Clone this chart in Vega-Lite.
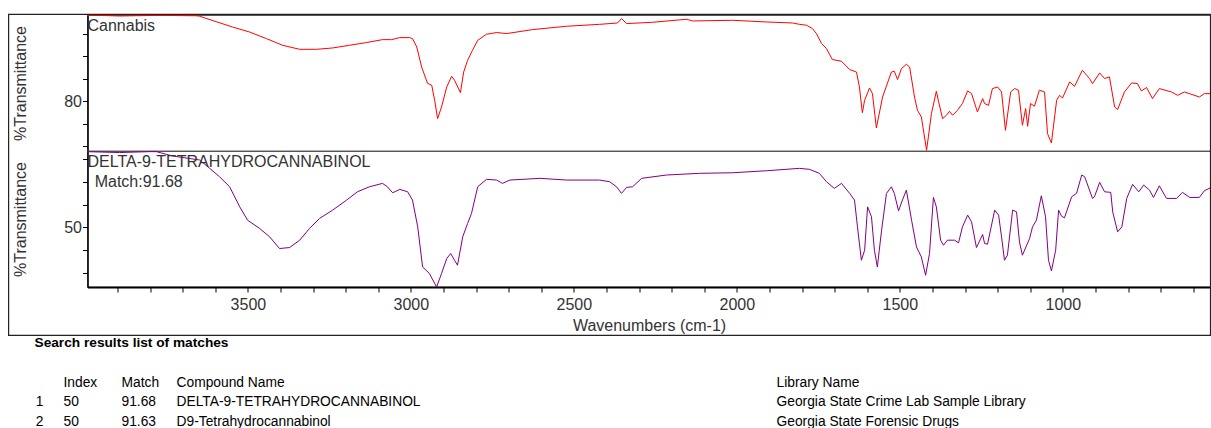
{
  "$schema": "https://vega.github.io/schema/vega-lite/v6.json",
  "padding": {"left": 6.5, "top": 13, "right": 0, "bottom": 0},
  "background": "white",
  "config": {
    "font": "Liberation Sans",
    "view": {"stroke": "#555", "strokeWidth": 1.2},
    "axis": {"grid": false, "domainColor": "#000", "domainWidth": 1.5, "tickColor": "#000", "tickSize": 5, "labelFontSize": 16, "labelColor": "#333", "titleFontSize": 16, "titleFontWeight": "normal", "titleColor": "#333", "labelFont": "Liberation Sans", "titleFont": "Liberation Sans"},
    "title": {"font": "Liberation Sans"}
  },
  "datasets": {
    "sample": [
      {"wavenumber": 3992, "transmittance": 87.67}, {"wavenumber": 3894, "transmittance": 87.58}, {"wavenumber": 3771, "transmittance": 87.64}, {"wavenumber": 3657, "transmittance": 87.6},
      {"wavenumber": 3648, "transmittance": 87.56}, {"wavenumber": 3547, "transmittance": 86.6}, {"wavenumber": 3495, "transmittance": 86.16}, {"wavenumber": 3443, "transmittance": 85.57},
      {"wavenumber": 3394, "transmittance": 84.98}, {"wavenumber": 3341, "transmittance": 84.62}, {"wavenumber": 3289, "transmittance": 84.62}, {"wavenumber": 3240, "transmittance": 84.74},
      {"wavenumber": 3188, "transmittance": 84.98}, {"wavenumber": 3136, "transmittance": 85.22}, {"wavenumber": 3087, "transmittance": 85.48}, {"wavenumber": 3059, "transmittance": 85.48},
      {"wavenumber": 3034, "transmittance": 85.66}, {"wavenumber": 3004, "transmittance": 85.66}, {"wavenumber": 2995, "transmittance": 85.57}, {"wavenumber": 2982, "transmittance": 84.83},
      {"wavenumber": 2967, "transmittance": 83.05}, {"wavenumber": 2949, "transmittance": 81.6}, {"wavenumber": 2936, "transmittance": 81.42}, {"wavenumber": 2927, "transmittance": 80.09},
      {"wavenumber": 2918, "transmittance": 78.46}, {"wavenumber": 2906, "transmittance": 79.49}, {"wavenumber": 2890, "transmittance": 81.27}, {"wavenumber": 2875, "transmittance": 82.22},
      {"wavenumber": 2866, "transmittance": 81.87}, {"wavenumber": 2848, "transmittance": 80.77}, {"wavenumber": 2838, "transmittance": 82.6}, {"wavenumber": 2826, "transmittance": 83.64},
      {"wavenumber": 2811, "transmittance": 84.53}, {"wavenumber": 2795, "transmittance": 85.42}, {"wavenumber": 2768, "transmittance": 85.96}, {"wavenumber": 2737, "transmittance": 86.11},
      {"wavenumber": 2706, "transmittance": 86.02}, {"wavenumber": 2627, "transmittance": 86.37}, {"wavenumber": 2522, "transmittance": 86.67}, {"wavenumber": 2421, "transmittance": 86.84},
      {"wavenumber": 2366, "transmittance": 86.96}, {"wavenumber": 2354, "transmittance": 87.35}, {"wavenumber": 2338, "transmittance": 86.91}, {"wavenumber": 2259, "transmittance": 87.02},
      {"wavenumber": 2154, "transmittance": 87.29}, {"wavenumber": 2136, "transmittance": 87.14}, {"wavenumber": 2013, "transmittance": 87.2}, {"wavenumber": 1909, "transmittance": 87.05},
      {"wavenumber": 1829, "transmittance": 86.96}, {"wavenumber": 1808, "transmittance": 86.84}, {"wavenumber": 1786, "transmittance": 86.76}, {"wavenumber": 1768, "transmittance": 86.46},
      {"wavenumber": 1756, "transmittance": 86.02}, {"wavenumber": 1740, "transmittance": 85.13}, {"wavenumber": 1725, "transmittance": 84.68}, {"wavenumber": 1707, "transmittance": 83.71},
      {"wavenumber": 1679, "transmittance": 83.56}, {"wavenumber": 1654, "transmittance": 82.82}, {"wavenumber": 1633, "transmittance": 82.6}, {"wavenumber": 1624, "transmittance": 81.27},
      {"wavenumber": 1615, "transmittance": 78.99}, {"wavenumber": 1608, "transmittance": 80.09}, {"wavenumber": 1593, "transmittance": 81.18}, {"wavenumber": 1584, "transmittance": 80.68},
      {"wavenumber": 1572, "transmittance": 77.63}, {"wavenumber": 1553, "transmittance": 80.38}, {"wavenumber": 1526, "transmittance": 82.6}, {"wavenumber": 1517, "transmittance": 82.67},
      {"wavenumber": 1507, "transmittance": 81.93}, {"wavenumber": 1495, "transmittance": 82.91}, {"wavenumber": 1480, "transmittance": 83.29}, {"wavenumber": 1470, "transmittance": 83.05},
      {"wavenumber": 1455, "transmittance": 80.38}, {"wavenumber": 1446, "transmittance": 79.2}, {"wavenumber": 1434, "transmittance": 78.61}, {"wavenumber": 1418, "transmittance": 75.64},
      {"wavenumber": 1403, "transmittance": 78.91}, {"wavenumber": 1388, "transmittance": 80.89}, {"wavenumber": 1382, "transmittance": 80.09}, {"wavenumber": 1369, "transmittance": 78.46},
      {"wavenumber": 1357, "transmittance": 78.76}, {"wavenumber": 1348, "transmittance": 79.11}, {"wavenumber": 1338, "transmittance": 78.76}, {"wavenumber": 1323, "transmittance": 79.2},
      {"wavenumber": 1308, "transmittance": 79.8}, {"wavenumber": 1292, "transmittance": 80.92}, {"wavenumber": 1280, "transmittance": 80.68}, {"wavenumber": 1262, "transmittance": 79.05},
      {"wavenumber": 1246, "transmittance": 80.24}, {"wavenumber": 1240, "transmittance": 79.8}, {"wavenumber": 1228, "transmittance": 79.64}, {"wavenumber": 1216, "transmittance": 81.13},
      {"wavenumber": 1200, "transmittance": 81.27}, {"wavenumber": 1188, "transmittance": 80.83}, {"wavenumber": 1176, "transmittance": 77.42}, {"wavenumber": 1160, "transmittance": 80.83},
      {"wavenumber": 1148, "transmittance": 81.13}, {"wavenumber": 1136, "transmittance": 80.98}, {"wavenumber": 1124, "transmittance": 77.87}, {"wavenumber": 1114, "transmittance": 79.35},
      {"wavenumber": 1108, "transmittance": 77.78}, {"wavenumber": 1099, "transmittance": 79.8}, {"wavenumber": 1087, "transmittance": 79.56}, {"wavenumber": 1072, "transmittance": 80.98},
      {"wavenumber": 1056, "transmittance": 80.83}, {"wavenumber": 1047, "transmittance": 77.13}, {"wavenumber": 1035, "transmittance": 76.29}, {"wavenumber": 1019, "transmittance": 80.09},
      {"wavenumber": 1010, "transmittance": 80.53}, {"wavenumber": 1001, "transmittance": 80.29}, {"wavenumber": 979, "transmittance": 81.72}, {"wavenumber": 964, "transmittance": 81.33},
      {"wavenumber": 940, "transmittance": 82.76}, {"wavenumber": 918, "transmittance": 82.02}, {"wavenumber": 909, "transmittance": 81.57}, {"wavenumber": 887, "transmittance": 82.52},
      {"wavenumber": 872, "transmittance": 82.02}, {"wavenumber": 857, "transmittance": 82.16}, {"wavenumber": 841, "transmittance": 79.49}, {"wavenumber": 832, "transmittance": 79.26},
      {"wavenumber": 811, "transmittance": 80.83}, {"wavenumber": 789, "transmittance": 81.63}, {"wavenumber": 771, "transmittance": 81.57}, {"wavenumber": 759, "transmittance": 80.92},
      {"wavenumber": 743, "transmittance": 81.22}, {"wavenumber": 725, "transmittance": 80.24}, {"wavenumber": 704, "transmittance": 81.13}, {"wavenumber": 667, "transmittance": 80.83},
      {"wavenumber": 648, "transmittance": 80.53}, {"wavenumber": 627, "transmittance": 80.83}, {"wavenumber": 581, "transmittance": 80.38}, {"wavenumber": 566, "transmittance": 80.68},
      {"wavenumber": 547, "transmittance": 80.68}
    ],
    "reference": [
      {"wavenumber": 3992, "transmittance": 66.69}, {"wavenumber": 3894, "transmittance": 66.5}, {"wavenumber": 3800, "transmittance": 66.7}, {"wavenumber": 3780, "transmittance": 66.69},
      {"wavenumber": 3731, "transmittance": 65.74}, {"wavenumber": 3648, "transmittance": 64.86}, {"wavenumber": 3617, "transmittance": 63.02}, {"wavenumber": 3587, "transmittance": 61.17},
      {"wavenumber": 3556, "transmittance": 58.96}, {"wavenumber": 3525, "transmittance": 54.55}, {"wavenumber": 3501, "transmittance": 51.61}, {"wavenumber": 3464, "transmittance": 49.78},
      {"wavenumber": 3433, "transmittance": 47.92}, {"wavenumber": 3403, "transmittance": 45.36}, {"wavenumber": 3372, "transmittance": 45.58}, {"wavenumber": 3341, "transmittance": 47.2},
      {"wavenumber": 3311, "transmittance": 49.78}, {"wavenumber": 3280, "transmittance": 51.99}, {"wavenumber": 3240, "transmittance": 53.82}, {"wavenumber": 3197, "transmittance": 56.03},
      {"wavenumber": 3164, "transmittance": 57.86}, {"wavenumber": 3127, "transmittance": 58.96}, {"wavenumber": 3087, "transmittance": 59.71}, {"wavenumber": 3072, "transmittance": 58.96},
      {"wavenumber": 3056, "transmittance": 57.64}, {"wavenumber": 3034, "transmittance": 58.39}, {"wavenumber": 3010, "transmittance": 57.86}, {"wavenumber": 2995, "transmittance": 56.03},
      {"wavenumber": 2979, "transmittance": 50.13}, {"wavenumber": 2964, "transmittance": 41.3}, {"wavenumber": 2943, "transmittance": 39.85}, {"wavenumber": 2921, "transmittance": 36.89},
      {"wavenumber": 2906, "transmittance": 39.85}, {"wavenumber": 2890, "transmittance": 43.16}, {"wavenumber": 2878, "transmittance": 44.26}, {"wavenumber": 2866, "transmittance": 42.78},
      {"wavenumber": 2857, "transmittance": 41.68}, {"wavenumber": 2841, "transmittance": 47.92}, {"wavenumber": 2826, "transmittance": 50.88}, {"wavenumber": 2814, "transmittance": 53.09},
      {"wavenumber": 2795, "transmittance": 58.96}, {"wavenumber": 2768, "transmittance": 60.6}, {"wavenumber": 2737, "transmittance": 60.44}, {"wavenumber": 2719, "transmittance": 59.71},
      {"wavenumber": 2696, "transmittance": 60.44}, {"wavenumber": 2604, "transmittance": 60.82}, {"wavenumber": 2522, "transmittance": 60.44}, {"wavenumber": 2421, "transmittance": 60.44},
      {"wavenumber": 2390, "transmittance": 60.07}, {"wavenumber": 2369, "transmittance": 58.96}, {"wavenumber": 2354, "transmittance": 57.51}, {"wavenumber": 2338, "transmittance": 58.83},
      {"wavenumber": 2320, "transmittance": 58.96}, {"wavenumber": 2292, "transmittance": 60.82}, {"wavenumber": 2216, "transmittance": 61.55}, {"wavenumber": 2115, "transmittance": 61.92},
      {"wavenumber": 2013, "transmittance": 62.05}, {"wavenumber": 1909, "transmittance": 62.49}, {"wavenumber": 1808, "transmittance": 63.02}, {"wavenumber": 1777, "transmittance": 62.8},
      {"wavenumber": 1747, "transmittance": 61.92}, {"wavenumber": 1725, "transmittance": 60.07}, {"wavenumber": 1701, "transmittance": 58.61}, {"wavenumber": 1679, "transmittance": 59.71},
      {"wavenumber": 1654, "transmittance": 57.51}, {"wavenumber": 1639, "transmittance": 56.03}, {"wavenumber": 1630, "transmittance": 50.13}, {"wavenumber": 1618, "transmittance": 42.78},
      {"wavenumber": 1608, "transmittance": 44.99}, {"wavenumber": 1599, "transmittance": 54.55}, {"wavenumber": 1587, "transmittance": 52.34}, {"wavenumber": 1578, "transmittance": 44.99},
      {"wavenumber": 1569, "transmittance": 41.3}, {"wavenumber": 1556, "transmittance": 49.4}, {"wavenumber": 1541, "transmittance": 57.51}, {"wavenumber": 1526, "transmittance": 58.96},
      {"wavenumber": 1517, "transmittance": 57.51}, {"wavenumber": 1504, "transmittance": 53.66}, {"wavenumber": 1492, "transmittance": 56.03}, {"wavenumber": 1480, "transmittance": 58.23},
      {"wavenumber": 1464, "transmittance": 51.61}, {"wavenumber": 1449, "transmittance": 45.72}, {"wavenumber": 1434, "transmittance": 43.51}, {"wavenumber": 1421, "transmittance": 39.47},
      {"wavenumber": 1409, "transmittance": 44.26}, {"wavenumber": 1397, "transmittance": 56.62}, {"wavenumber": 1388, "transmittance": 54.55}, {"wavenumber": 1375, "transmittance": 47.2},
      {"wavenumber": 1366, "transmittance": 46.09}, {"wavenumber": 1354, "transmittance": 47.2}, {"wavenumber": 1332, "transmittance": 47.2}, {"wavenumber": 1320, "transmittance": 46.6},
      {"wavenumber": 1308, "transmittance": 50.13}, {"wavenumber": 1292, "transmittance": 52.72}, {"wavenumber": 1280, "transmittance": 51.24}, {"wavenumber": 1265, "transmittance": 45.58},
      {"wavenumber": 1246, "transmittance": 48.45}, {"wavenumber": 1240, "transmittance": 46.47}, {"wavenumber": 1231, "transmittance": 46.31}, {"wavenumber": 1209, "transmittance": 53.82},
      {"wavenumber": 1197, "transmittance": 52.72}, {"wavenumber": 1188, "transmittance": 47.92}, {"wavenumber": 1179, "transmittance": 42.78}, {"wavenumber": 1170, "transmittance": 43.89},
      {"wavenumber": 1154, "transmittance": 53.82}, {"wavenumber": 1142, "transmittance": 53.44}, {"wavenumber": 1133, "transmittance": 46.82}, {"wavenumber": 1124, "transmittance": 43.89},
      {"wavenumber": 1102, "transmittance": 47.57}, {"wavenumber": 1093, "transmittance": 50.13}, {"wavenumber": 1081, "transmittance": 51.61}, {"wavenumber": 1066, "transmittance": 56.98},
      {"wavenumber": 1053, "transmittance": 52.34}, {"wavenumber": 1044, "transmittance": 42.78}, {"wavenumber": 1035, "transmittance": 40.42}, {"wavenumber": 1022, "transmittance": 44.99},
      {"wavenumber": 1013, "transmittance": 53.82}, {"wavenumber": 1004, "transmittance": 52.49}, {"wavenumber": 995, "transmittance": 52.12}, {"wavenumber": 973, "transmittance": 56.75},
      {"wavenumber": 958, "transmittance": 57.51}, {"wavenumber": 942, "transmittance": 61.55}, {"wavenumber": 933, "transmittance": 61.17}, {"wavenumber": 909, "transmittance": 56.4},
      {"wavenumber": 903, "transmittance": 56.75}, {"wavenumber": 887, "transmittance": 59.93}, {"wavenumber": 872, "transmittance": 57.86}, {"wavenumber": 853, "transmittance": 57.73},
      {"wavenumber": 847, "transmittance": 53.44}, {"wavenumber": 832, "transmittance": 49.03}, {"wavenumber": 819, "transmittance": 50.13}, {"wavenumber": 804, "transmittance": 56.4},
      {"wavenumber": 786, "transmittance": 59.49}, {"wavenumber": 767, "transmittance": 57.86}, {"wavenumber": 752, "transmittance": 59.34}, {"wavenumber": 734, "transmittance": 58.23},
      {"wavenumber": 722, "transmittance": 56.62}, {"wavenumber": 704, "transmittance": 59.18}, {"wavenumber": 682, "transmittance": 56.4}, {"wavenumber": 651, "transmittance": 56.4},
      {"wavenumber": 633, "transmittance": 57.73}, {"wavenumber": 611, "transmittance": 56.62}, {"wavenumber": 581, "transmittance": 56.62}, {"wavenumber": 566, "transmittance": 58.08},
      {"wavenumber": 547, "transmittance": 58.74}
    ],
    "matches": [
      {"row": "h", "no": "", "index": "Index", "match": "Match", "name": "Compound Name", "library": "Library Name"},
      {"row": "1", "no": "1", "index": "50", "match": "91.68", "name": "DELTA-9-TETRAHYDROCANNABINOL", "library": "Georgia State Crime Lab Sample Library"},
      {"row": "2", "no": "2", "index": "50", "match": "91.63", "name": "D9-Tetrahydrocannabinol", "library": "Georgia State Forensic Drugs"}
    ]
  },
  "spacing": -2,
  "vconcat": [
    {
      "spacing": 0,
      "bounds": "flush",
      "vconcat": [
        {
          "width": 1123,
          "height": 136,
          "layer": [
            {"data": {"name": "sample"}, "mark": {"type": "line", "color": "#ff0000", "strokeWidth": 1, "clip": true},
             "encoding": {
               "x": {"field": "wavenumber", "type": "quantitative", "scale": {"domain": [3992, 547], "nice": false, "zero": false}, "axis": null},
               "y": {"field": "transmittance", "type": "quantitative", "scale": {"domain": [75.58, 87.67], "nice": false, "zero": false},
                     "axis": {"values": [76, 78, 80, 82, 84, 86], "labelExpr": "datum.value == 80 ? '80' : ''", "labelFontSize": {"condition": {"test": "datum.value == 80", "value": 16}, "value": 0}, "title": "%Transmittance", "labelPadding": 1, "titlePadding": 35, "labelOverlap": false}}
             }},
            {"data": {"values": [{"label": "Cannabis"}]},
             "mark": {"type": "text", "align": "left", "baseline": "alphabetic", "fontSize": 16, "color": "#333"},
             "encoding": {
               "x": {"datum": 3992, "type": "quantitative", "axis": null},
               "y": {"datum": 86.25, "type": "quantitative",
                     "axis": {"values": [76, 78, 80, 82, 84, 86], "labelExpr": "datum.value == 80 ? '80' : ''", "labelFontSize": {"condition": {"test": "datum.value == 80", "value": 16}, "value": 0}, "title": "%Transmittance", "labelPadding": 1, "titlePadding": 35, "labelOverlap": false}},
               "text": {"field": "label", "type": "nominal"}}}
          ]
        },
        {
          "width": 1123,
          "height": 136,
          "layer": [
            {"data": {"name": "reference"}, "mark": {"type": "line", "color": "#800080", "strokeWidth": 1, "clip": true},
             "encoding": {
               "x": {"field": "wavenumber", "type": "quantitative", "scale": {"domain": [3992, 547], "nice": false, "zero": false},
                     "axis": {"values": [3900, 3800, 3700, 3600, 3500, 3400, 3300, 3200, 3100, 3000, 2900, 2800, 2700, 2600, 2500, 2400, 2300, 2200, 2100, 2000, 1900, 1800, 1700, 1600, 1500, 1400, 1300, 1200, 1100, 1000, 900, 800, 700, 600],
                              "format": "d", "labelExpr": "datum.value % 500 == 0 ? datum.label : ''", "labelOverlap": false, "labelFlush": false, "labelPadding": 4, "title": "Wavenumbers (cm-1)", "titlePadding": 5, "domainWidth": 2}},
               "y": {"field": "transmittance", "type": "quantitative", "scale": {"domain": [36.89, 66.84], "nice": false, "zero": false},
                     "axis": {"values": [40, 45, 50, 55, 60, 65], "labelExpr": "datum.value == 50 ? '50' : ''", "labelFontSize": {"condition": {"test": "datum.value == 50", "value": 16}, "value": 0}, "title": "%Transmittance", "labelPadding": 1, "titlePadding": 35, "labelOverlap": false}}
             }},
            {"data": {"values": [{"label": "DELTA-9-TETRAHYDROCANNABINOL"}]},
             "mark": {"type": "text", "align": "left", "baseline": "alphabetic", "fontSize": 16, "color": "#333"},
             "encoding": {
               "x": {"datum": 3992, "type": "quantitative",
                     "axis": {"values": [3900, 3800, 3700, 3600, 3500, 3400, 3300, 3200, 3100, 3000, 2900, 2800, 2700, 2600, 2500, 2400, 2300, 2200, 2100, 2000, 1900, 1800, 1700, 1600, 1500, 1400, 1300, 1200, 1100, 1000, 900, 800, 700, 600],
                              "format": "d", "labelExpr": "datum.value % 500 == 0 ? datum.label : ''", "labelOverlap": false, "labelFlush": false, "labelPadding": 4, "title": "Wavenumbers (cm-1)", "titlePadding": 5, "domainWidth": 2}},
               "y": {"datum": 63.38, "type": "quantitative",
                     "axis": {"values": [40, 45, 50, 55, 60, 65], "labelExpr": "datum.value == 50 ? '50' : ''", "labelFontSize": {"condition": {"test": "datum.value == 50", "value": 16}, "value": 0}, "title": "%Transmittance", "labelPadding": 1, "titlePadding": 35, "labelOverlap": false}},
               "text": {"field": "label", "type": "nominal"}}},
            {"data": {"values": [{"label": "Match:91.68"}]},
             "mark": {"type": "text", "align": "left", "baseline": "alphabetic", "fontSize": 16, "color": "#333"},
             "encoding": {
               "x": {"datum": 3970, "type": "quantitative",
                     "axis": {"values": [3900, 3800, 3700, 3600, 3500, 3400, 3300, 3200, 3100, 3000, 2900, 2800, 2700, 2600, 2500, 2400, 2300, 2200, 2100, 2000, 1900, 1800, 1700, 1600, 1500, 1400, 1300, 1200, 1100, 1000, 900, 800, 700, 600],
                              "format": "d", "labelExpr": "datum.value % 500 == 0 ? datum.label : ''", "labelOverlap": false, "labelFlush": false, "labelPadding": 4, "title": "Wavenumbers (cm-1)", "titlePadding": 5, "domainWidth": 2}},
               "y": {"datum": 58.97, "type": "quantitative",
                     "axis": {"values": [40, 45, 50, 55, 60, 65], "labelExpr": "datum.value == 50 ? '50' : ''", "labelFontSize": {"condition": {"test": "datum.value == 50", "value": 16}, "value": 0}, "title": "%Transmittance", "labelPadding": 1, "titlePadding": 35, "labelOverlap": false}},
               "text": {"field": "label", "type": "nominal"}}},
            {"data": {"values": [{"frame": "outer"}]},
             "mark": {"type": "rect", "fill": null, "filled": false, "stroke": "#222", "strokeWidth": 1.2, "clip": false},
             "encoding": {
               "x": {"datum": 4234, "type": "quantitative",
                     "axis": {"values": [3900, 3800, 3700, 3600, 3500, 3400, 3300, 3200, 3100, 3000, 2900, 2800, 2700, 2600, 2500, 2400, 2300, 2200, 2100, 2000, 1900, 1800, 1700, 1600, 1500, 1400, 1300, 1200, 1100, 1000, 900, 800, 700, 600],
                              "format": "d", "labelExpr": "datum.value % 500 == 0 ? datum.label : ''", "labelOverlap": false, "labelFlush": false, "labelPadding": 4, "title": "Wavenumbers (cm-1)", "titlePadding": 5, "domainWidth": 2}},
               "x2": {"datum": 547},
               "y": {"datum": 96.94, "type": "quantitative",
                     "axis": {"values": [40, 45, 50, 55, 60, 65], "labelExpr": "datum.value == 50 ? '50' : ''", "labelFontSize": {"condition": {"test": "datum.value == 50", "value": 16}, "value": 0}, "title": "%Transmittance", "labelPadding": 1, "titlePadding": 35, "labelOverlap": false}},
               "y2": {"datum": 26.25}}}
          ]
        }
      ]
    },
    {
      "width": 1123,
      "height": 58.5,
      "view": {"stroke": null},
      "title": {"text": "Search results list of matches", "anchor": "start", "frame": "group", "orient": "top", "offset": 12.4, "dx": -53, "baseline": "alphabetic", "fontSize": 13.7, "fontWeight": "bold", "color": "#000"},
      "data": {"name": "matches"},
      "encoding": {
        "y": {"field": "row", "type": "ordinal", "scale": {"type": "point", "domain": ["h", "1", "2"], "padding": 0.5}, "axis": null}
      },
      "layer": [
        {"mark": {"type": "text", "align": "center", "baseline": "middle", "fontSize": 13.8, "color": "#000"},
         "encoding": {"x": {"datum": 1, "type": "quantitative", "scale": {"domain": [1, 2, 3, 4, 5], "range": [-48, -24, 34, 89, 689]}, "axis": null}, "text": {"field": "no"}}},
        {"mark": {"type": "text", "align": "left", "baseline": "middle", "fontSize": 13.8, "color": "#000"},
         "encoding": {"x": {"datum": 2, "type": "quantitative", "axis": null}, "text": {"field": "index"}}},
        {"mark": {"type": "text", "align": "left", "baseline": "middle", "fontSize": 13.8, "color": "#000"},
         "encoding": {"x": {"datum": 3, "type": "quantitative", "axis": null}, "text": {"field": "match"}}},
        {"mark": {"type": "text", "align": "left", "baseline": "middle", "fontSize": 13.8, "color": "#000"},
         "encoding": {"x": {"datum": 4, "type": "quantitative", "axis": null}, "text": {"field": "name"}}},
        {"mark": {"type": "text", "align": "left", "baseline": "middle", "fontSize": 13.8, "color": "#000"},
         "encoding": {"x": {"datum": 5, "type": "quantitative", "axis": null}, "text": {"field": "library"}}}
      ]
    }
  ]
}
